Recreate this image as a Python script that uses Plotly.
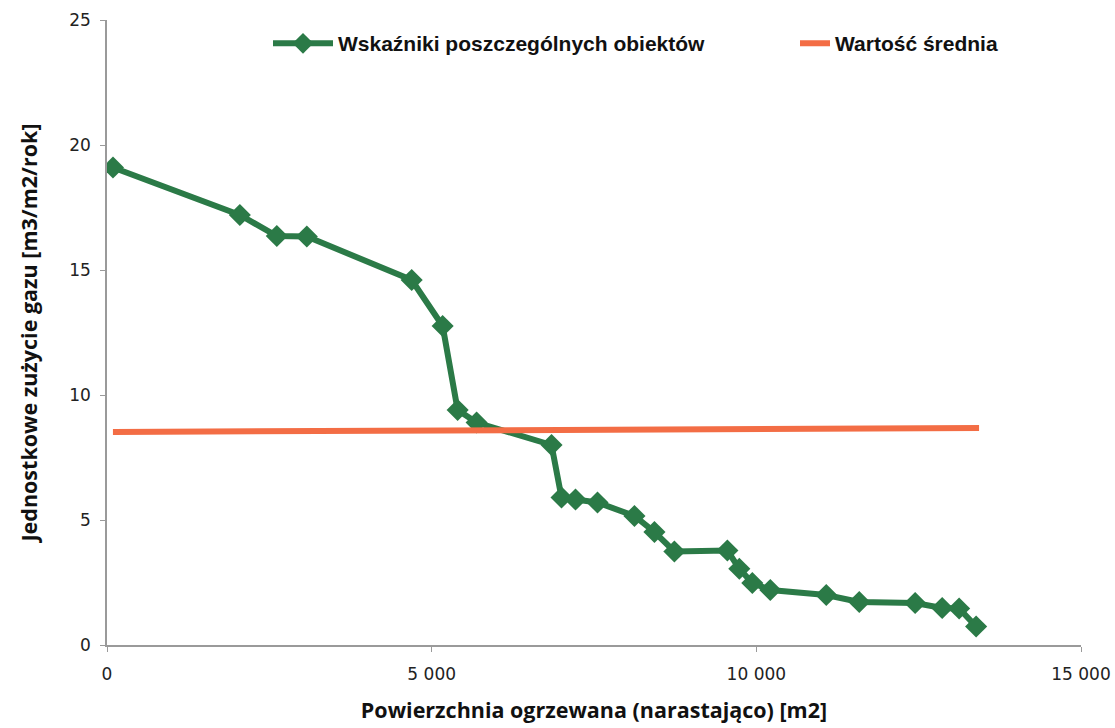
import plotly.graph_objects as go

# Cumulative heated floor area [m2] and unit gas use [m3/m2/year] per building
area_cum = [92, 2046, 2615, 3077, 4692, 5169, 5400, 5692, 6846, 7000, 7215, 7554,
            8123, 8431, 8738, 9554, 9738, 9938, 10215, 11077, 11585, 12446, 12862,
            13123, 13385]
unit_use = [19.1, 17.2, 16.36, 16.34, 14.6, 12.76, 9.4, 8.9, 8.0, 5.9, 5.82, 5.7,
            5.16, 4.52, 3.74, 3.78, 3.05, 2.48, 2.2, 2.0, 1.72, 1.68, 1.48,
            1.46, 0.74]

# Mean value line (end points)
mean_x = [92, 13430]
mean_y = [8.52, 8.68]

series_names = ["Wskaźniki poszczególnych obiektów", "Wartość średnia"]
x_title = "Powierzchnia ogrzewana (narastająco) [m2]"
y_title = "Jednostkowe zużycie gazu [m3/m2/rok]"

GREEN = "#2b7a47"
ORANGE = "#f36d45"

fig = go.Figure()
fig.add_trace(go.Scatter(
    x=area_cum, y=unit_use, mode="lines+markers", name=series_names[0],
    line=dict(color=GREEN, width=6),
    marker=dict(symbol="diamond", size=17, color=GREEN),
    legend="legend",
))
fig.add_trace(go.Scatter(
    x=mean_x, y=mean_y, mode="lines", name=series_names[1],
    line=dict(color=ORANGE, width=6),
    legend="legend2",
))

tick_font = dict(family="DejaVu Sans", size=17, color="#222222")
title_font = dict(family="Open Sans, sans-serif", size=21.5, color="#111111", weight="bold")
legend_font = dict(family="Liberation Sans, Arial", size=21, color="#111111", weight="bold")

fig.update_layout(
    width=1115, height=728,
    margin=dict(l=107, r=34, t=20, b=83),
    paper_bgcolor="white", plot_bgcolor="white",
    separators=". ",
    showlegend=True,
    legend=dict(
        orientation="h", x=(268 - 107) / 974, y=0.995, xanchor="left", yanchor="top",
        font=legend_font, bgcolor="rgba(0,0,0,0)", itemwidth=60,
    ),
    legend2=dict(
        orientation="h", x=(795 - 107) / 974, y=0.995, xanchor="left", yanchor="top",
        font=legend_font, bgcolor="rgba(0,0,0,0)", itemwidth=30,
    ),
    xaxis=dict(
        range=[0, 15000], dtick=5000, tickformat=",d",
        showline=True, linecolor="#9a9a9a", linewidth=1.5,
        ticks="outside", ticklen=5, tickcolor="#9a9a9a",
        showgrid=False, zeroline=False, automargin=False,
        tickfont=tick_font, ticklabelstandoff=8,
        title=dict(text=x_title, font=title_font, standoff=20),
    ),
    yaxis=dict(
        range=[0, 25], dtick=5,
        showline=True, linecolor="#9a9a9a", linewidth=1.5,
        ticks="outside", ticklen=5, tickcolor="#9a9a9a",
        showgrid=False, zeroline=False, automargin=False,
        tickfont=tick_font, ticklabelstandoff=6,
        title=dict(text=y_title, font=title_font, standoff=26),
    ),
)

fig.write_html("out.html")
